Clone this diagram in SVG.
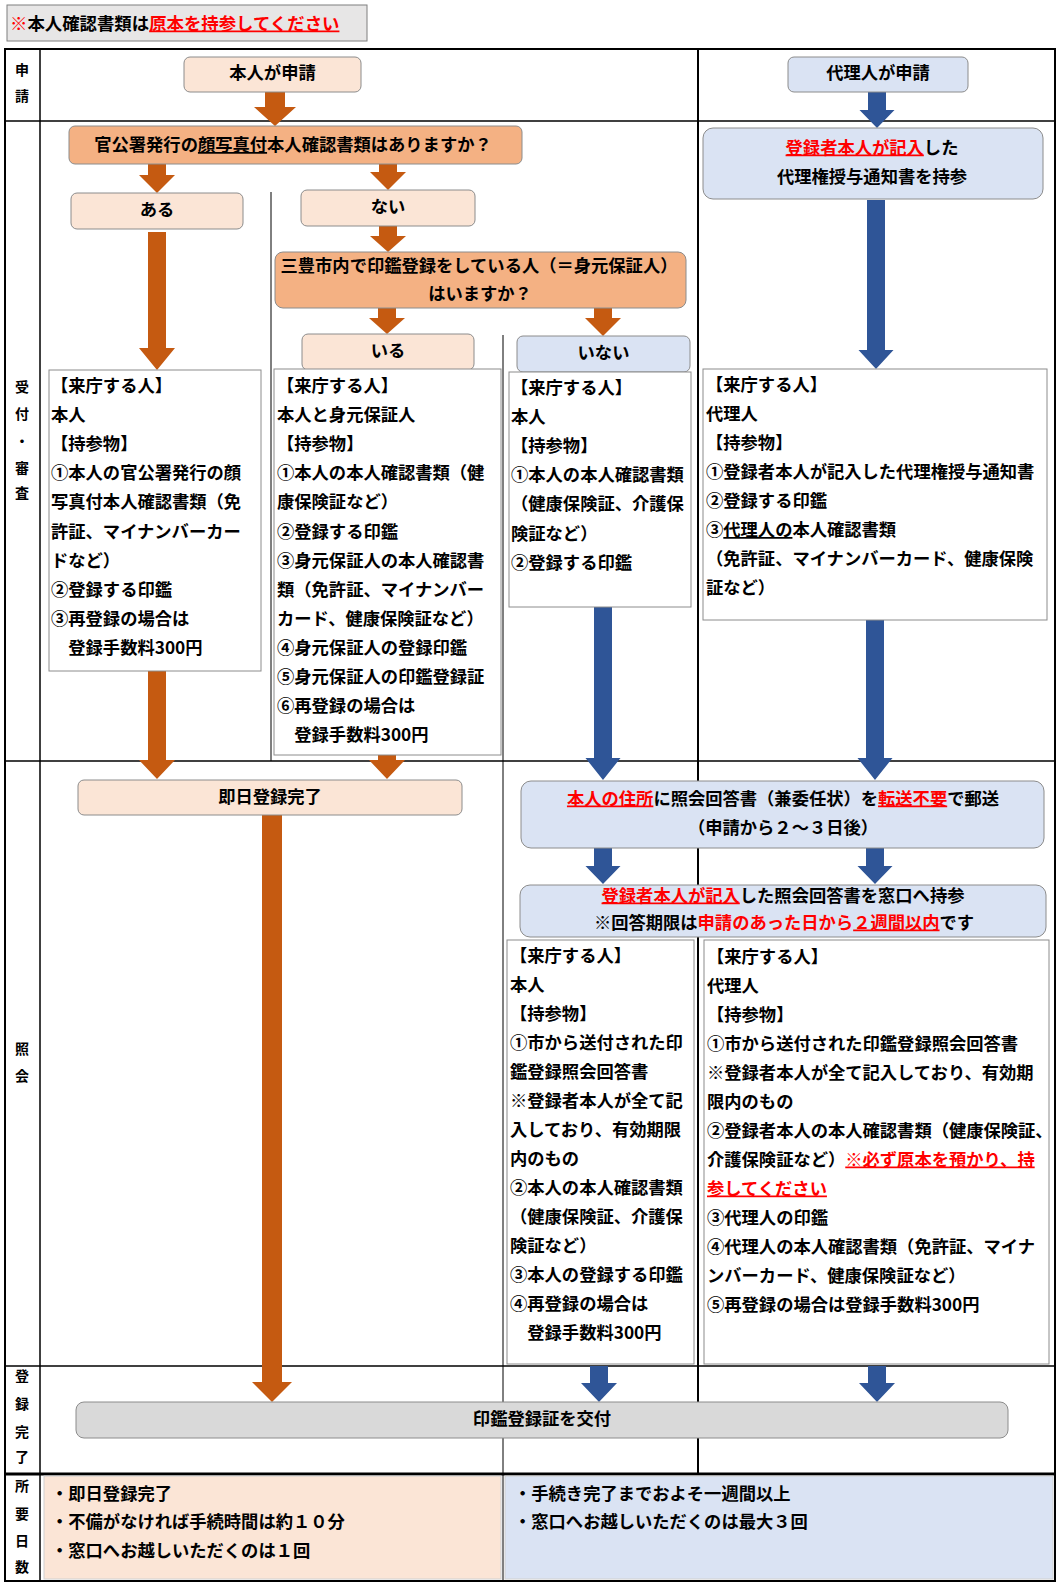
<svg xmlns="http://www.w3.org/2000/svg" width="1060" height="1586" viewBox="0 0 1060 1586">
<style>
text{font-family:'Noto Sans CJK JP','Noto Sans CJK SC',sans-serif;font-weight:bold;fill:#000}
.lb{font-size:14px;text-anchor:middle}
.b{font-size:17.3px}
.c{font-size:17.3px;text-anchor:middle}
.r{fill:#ff0000}
.u{text-decoration:underline}
.peach{fill:#fbe5d6;stroke:#8c8c8c;stroke-width:1}
.org{fill:#f4b183;stroke:#8c8c8c;stroke-width:1}
.blue{fill:#dae3f3;stroke:#8c8c8c;stroke-width:1}
.gray{fill:#d9d9d9;stroke:#8c8c8c;stroke-width:1}
.card{fill:#ffffff;stroke:#8c8c8c;stroke-width:1}
.ao{fill:#c55a11}
.ab{fill:#2f5597}
.ln{stroke:#000;fill:none}
</style>
<rect width="1060" height="1586" fill="#ffffff"/>

<g id="note">
<rect x="7" y="5" width="360" height="36" fill="#e7e6e6" stroke="#7f7f7f" stroke-width="1"/>
<text x="10" y="29.5" style="font-size:17.4px"><tspan class="r">※</tspan>本人確認書類は<tspan class="r u">原本を持参してください</tspan></text>
</g>

<g id="table">
<line class="ln" x1="40" y1="49" x2="40" y2="1581" stroke-width="1.5"/>
<line class="ln" x1="5" y1="121" x2="1055" y2="121" stroke-width="1.5"/>
<line class="ln" x1="5" y1="761" x2="1055" y2="761" stroke-width="1.5"/>
<line class="ln" x1="5" y1="1366" x2="1055" y2="1366" stroke-width="1.5"/>
<line class="ln" x1="698" y1="49" x2="698" y2="1474" stroke-width="2"/>
<line class="ln" x1="503" y1="335" x2="503" y2="1581" stroke-width="1"/>
<line class="ln" x1="271" y1="192" x2="271" y2="761" stroke-width="1"/>
<line class="ln" x1="5" y1="1474" x2="1055" y2="1474" stroke-width="3"/>
<rect class="ln" x="5" y="49" width="1050" height="1532" stroke-width="2"/>
<text class="lb" x="22" y="75">申</text>
<text class="lb" x="22" y="101">請</text>
<text class="lb" x="22" y="392">受</text>
<text class="lb" x="22" y="419">付</text>
<text class="lb" x="22" y="446">・</text>
<text class="lb" x="22" y="473">審</text>
<text class="lb" x="22" y="498">査</text>
<text class="lb" x="22" y="1054">照</text>
<text class="lb" x="22" y="1081">会</text>
<text class="lb" x="22" y="1381">登</text>
<text class="lb" x="22" y="1409">録</text>
<text class="lb" x="22" y="1437">完</text>
<text class="lb" x="22" y="1462">了</text>
<text class="lb" x="22" y="1491">所</text>
<text class="lb" x="22" y="1519">要</text>
<text class="lb" x="22" y="1546">日</text>
<text class="lb" x="22" y="1572">数</text>
</g>

<g id="connectors">
<polygon class="ao" points="265,92 285,92 285,107 296,107 275,126 254,107 265,107"/>
<polygon class="ao" points="148,164 166,164 166,175 175,175 157,193 139,175 148,175"/>
<polygon class="ao" points="379,164 397,164 397,172 406,172 388,190 370,172 379,172"/>
<polygon class="ao" points="379,226 397,226 397,236 406,236 388,252 370,236 379,236"/>
<polygon class="ao" points="148,232 166,232 166,348 175,348 157,370 139,348 148,348"/>
<polygon class="ao" points="378,308 396,308 396,318 405,318 387,334 369,318 378,318"/>
<polygon class="ao" points="594,308 612,308 612,318 621,318 603,336 585,318 594,318"/>
<polygon class="ao" points="148,671 166,671 166,760 175,760 157,779 139,760 148,760"/>
<polygon class="ao" points="378,755 396,755 396,760 405,760 387,779 369,760 378,760"/>
<polygon class="ao" points="262,815 282,815 282,1382 292,1382 272,1402 252,1382 262,1382"/>
<polygon class="ab" points="868,92 886,92 886,110 894.5,110 877,128 859.5,110 868,110"/>
<polygon class="ab" points="867,200 885,200 885,350 893.5,350 876,369 858.5,350 867,350"/>
<polygon class="ab" points="594,607 612,607 612,758 620.5,758 603,780 585.5,758 594,758"/>
<polygon class="ab" points="866,620 884,620 884,758 892.5,758 875,780 857.5,758 866,758"/>
<polygon class="ab" points="594,848 612,848 612,866 620.5,866 603,884 585.5,866 594,866"/>
<polygon class="ab" points="866,848 884,848 884,866 892.5,866 875,884 857.5,866 866,866"/>
<polygon class="ab" points="590,1366 608,1366 608,1383 617,1383 599,1402 581,1383 590,1383"/>
<polygon class="ab" points="868,1366 886,1366 886,1383 895,1383 877,1402 859,1383 868,1383"/>
</g>

<g id="self-apply">
<rect class="peach" x="184" y="57" width="177" height="35" rx="6"/>
<text class="c" x="272.5" y="78.5">本人が申請</text>
</g>
<g id="agent-apply">
<rect class="blue" x="788" y="57" width="180" height="35" rx="6"/>
<text class="c" x="878" y="78.5">代理人が申請</text>
</g>
<g id="q-photo-id">
<rect class="org" x="69" y="126" width="453" height="38" rx="6"/>
<text class="c" x="293" y="151">官公署発行の<tspan class="u">顔写真付</tspan>本人確認書類はありますか？</text>
</g>
<g id="agent-doc">
<rect class="blue" x="703" y="128" width="340" height="71" rx="10"/>
<text class="c" x="872" y="153.5"><tspan class="r u">登録者本人が記入</tspan>した</text>
<text class="c" x="872" y="182.5">代理権授与通知書を持参</text>
</g>
<g id="yes">
<rect class="peach" x="71" y="193" width="172" height="36" rx="6"/>
<text class="c" x="157" y="216">ある</text>
</g>
<g id="no">
<rect class="peach" x="301" y="190" width="174" height="36" rx="6"/>
<text class="c" x="388" y="213">ない</text>
</g>
<g id="q-guarantor">
<rect class="org" x="275" y="252" width="411" height="56" rx="8"/>
<text class="c" x="479" y="271.5">三豊市内で印鑑登録をしている人（＝身元保証人）</text>
<text class="c" x="480" y="300">はいますか？</text>
</g>
<g id="exists">
<rect class="peach" x="302" y="334" width="172" height="36" rx="6"/>
<text class="c" x="388" y="357">いる</text>
</g>
<g id="not-exists">
<rect class="blue" x="517" y="336" width="173" height="36" rx="6"/>
<text class="c" x="603.5" y="358.5">いない</text>
</g>

<g id="card-yes">
<rect class="card" x="49" y="370" width="212" height="301"/>
<text class="b" x="51" y="392"><tspan x="51">【来庁する人】</tspan><tspan x="51" dy="29.1">本人</tspan><tspan x="51" dy="29.1">【持参物】</tspan><tspan x="51" dy="29.1">①本人の官公署発行の顔</tspan><tspan x="51" dy="29.1">写真付本人確認書類（免</tspan><tspan x="51" dy="29.1">許証、マイナンバーカー</tspan><tspan x="51" dy="29.1">ドなど）</tspan><tspan x="51" dy="29.1">②登録する印鑑</tspan><tspan x="51" dy="29.1">③再登録の場合は</tspan><tspan x="51" dy="29.1">　登録手数料300円</tspan></text>
</g>
<g id="card-exists">
<rect class="card" x="274" y="369" width="227" height="386"/>
<text class="b" x="277" y="392"><tspan x="277">【来庁する人】</tspan><tspan x="277" dy="29.1">本人と身元保証人</tspan><tspan x="277" dy="29.1">【持参物】</tspan><tspan x="277" dy="29.1">①本人の本人確認書類（健</tspan><tspan x="277" dy="29.1">康保険証など）</tspan><tspan x="277" dy="29.1">②登録する印鑑</tspan><tspan x="277" dy="29.1">③身元保証人の本人確認書</tspan><tspan x="277" dy="29.1">類（免許証、マイナンバー</tspan><tspan x="277" dy="29.1">カード、健康保険証など）</tspan><tspan x="277" dy="29.1">④身元保証人の登録印鑑</tspan><tspan x="277" dy="29.1">⑤身元保証人の印鑑登録証</tspan><tspan x="277" dy="29.1">⑥再登録の場合は</tspan><tspan x="277" dy="29.1">　登録手数料300円</tspan></text>
</g>
<g id="card-not-exists">
<rect class="card" x="509" y="372" width="182" height="235"/>
<text class="b" x="511" y="394"><tspan x="511">【来庁する人】</tspan><tspan x="511" dy="29.1">本人</tspan><tspan x="511" dy="29.1">【持参物】</tspan><tspan x="511" dy="29.1">①本人の本人確認書類</tspan><tspan x="511" dy="29.1">（健康保険証、介護保</tspan><tspan x="511" dy="29.1">険証など）</tspan><tspan x="511" dy="29.1">②登録する印鑑</tspan></text>
</g>
<g id="card-agent">
<rect class="card" x="703" y="369" width="344" height="251"/>
<text class="b" x="706" y="391"><tspan x="706">【来庁する人】</tspan><tspan x="706" dy="29">代理人</tspan><tspan x="706" dy="29">【持参物】</tspan><tspan x="706" dy="29">①登録者本人が記入した代理権授与通知書</tspan><tspan x="706" dy="29">②登録する印鑑</tspan><tspan x="706" dy="29">③<tspan class="u">代理人の</tspan>本人確認書類</tspan><tspan x="706" dy="29">（免許証、マイナンバーカード、健康保険</tspan><tspan x="706" dy="29">証など）</tspan></text>
</g>

<g id="same-day">
<rect class="peach" x="78" y="780" width="384" height="35" rx="6"/>
<text class="c" x="270" y="803">即日登録完了</text>
</g>
<g id="mail">
<rect class="blue" x="521" y="781" width="523" height="67" rx="10"/>
<text class="c" x="783" y="804.5"><tspan class="r u">本人の住所</tspan>に照会回答書（兼委任状）を<tspan class="r u">転送不要</tspan>で郵送</text>
<text class="c" x="783" y="833.5">（申請から２～３日後）</text>
</g>
<g id="bring-reply">
<rect class="blue" x="520" y="885" width="526" height="52" rx="10"/>
<text class="c" x="783" y="901.5"><tspan class="r u">登録者本人が記入</tspan>した照会回答書を窓口へ持参</text>
<text class="c" x="784" y="928.5">※回答期限は<tspan class="r">申請のあった日から</tspan><tspan class="r u">２週間以内</tspan>です</text>
</g>
<g id="card-reply-self">
<rect class="card" x="507" y="940" width="187" height="424"/>
<text class="b" x="510" y="961.5"><tspan x="510">【来庁する人】</tspan><tspan x="510" dy="29">本人</tspan><tspan x="510" dy="29">【持参物】</tspan><tspan x="510" dy="29">①市から送付された印</tspan><tspan x="510" dy="29">鑑登録照会回答書</tspan><tspan x="510" dy="29">※登録者本人が全て記</tspan><tspan x="510" dy="29">入しており、有効期限</tspan><tspan x="510" dy="29">内のもの</tspan><tspan x="510" dy="29">②本人の本人確認書類</tspan><tspan x="510" dy="29">（健康保険証、介護保</tspan><tspan x="510" dy="29">険証など）</tspan><tspan x="510" dy="29">③本人の登録する印鑑</tspan><tspan x="510" dy="29">④再登録の場合は</tspan><tspan x="510" dy="29">　登録手数料300円</tspan></text>
</g>
<g id="card-reply-agent">
<rect class="card" x="704" y="940" width="345" height="424"/>
<text class="b" x="707" y="962.5"><tspan x="707">【来庁する人】</tspan><tspan x="707" dy="29">代理人</tspan><tspan x="707" dy="29">【持参物】</tspan><tspan x="707" dy="29">①市から送付された印鑑登録照会回答書</tspan><tspan x="707" dy="29">※登録者本人が全て記入しており、有効期</tspan><tspan x="707" dy="29">限内のもの</tspan><tspan x="707" dy="29">②登録者本人の本人確認書類（健康保険証、</tspan><tspan x="707" dy="29">介護保険証など）<tspan class="r u">※必ず原本を預かり、持</tspan></tspan><tspan x="707" dy="29" class="r u">参してください</tspan><tspan x="707" dy="29">③代理人の印鑑</tspan><tspan x="707" dy="29">④代理人の本人確認書類（免許証、マイナ</tspan><tspan x="707" dy="29">ンバーカード、健康保険証など）</tspan><tspan x="707" dy="29">⑤再登録の場合は登録手数料300円</tspan></text>
</g>

<g id="issue">
<rect class="gray" x="76" y="1402" width="932" height="36" rx="8"/>
<text class="c" x="542" y="1424.5">印鑑登録証を交付</text>
</g>
<g id="days-self">
<rect x="44" y="1476" width="457" height="103" fill="#fbe5d6" stroke="#d0d0d0" stroke-width="1"/>
<text class="b" x="51" y="1499.5">・即日登録完了</text>
<text class="b" x="51" y="1528">・不備がなければ手続時間は約１０分</text>
<text class="b" x="51" y="1557">・窓口へお越しいただくのは１回</text>
</g>
<g id="days-agent">
<rect x="505" y="1476" width="548" height="103" fill="#dae3f3" stroke="#d0d0d0" stroke-width="1"/>
<text class="b" x="514" y="1499.5">・手続き完了までおよそ一週間以上</text>
<text class="b" x="514" y="1528">・窓口へお越しいただくのは最大３回</text>
</g>
</svg>
